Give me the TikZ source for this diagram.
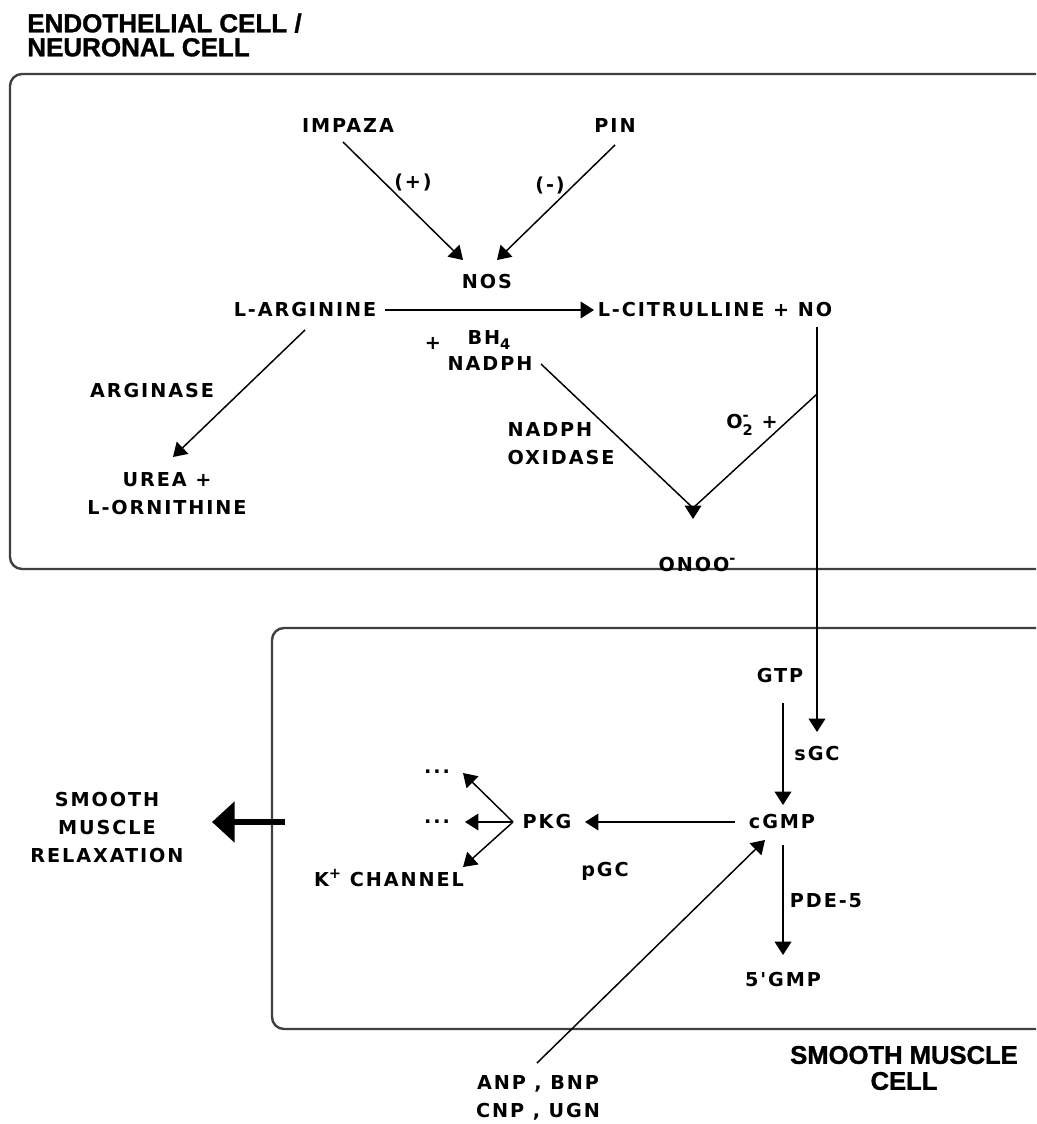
\documentclass[tikz,border=0pt]{standalone}
\usepackage{fontspec}
\usetikzlibrary{arrows.meta}
\newfontfamily\lblfam{DejaVu Sans}[LetterSpace=10]
\newfontfamily\hdrfam{Liberation Sans}[FakeBold=1.2]
\newcommand\lblfont{\lblfam\bfseries\fontsize{14.4}{21}\selectfont}
\newcommand\hdrfont{\hdrfam\bfseries\fontsize{19.5}{18}\selectfont}
\newcommand\hdrfontb{\hdrfam\bfseries\fontsize{19.2}{19.5}\selectfont}
\newcommand\smallsc[1]{{\fontsize{11}{11}\selectfont #1}}
\tikzset{
  lbl/.style={font=\lblfont, inner sep=1pt},
  hdr/.style={font=\hdrfont, inner sep=0pt},
  conn/.style={line width=1.1pt, -{Triangle[length=10pt,width=12.5pt]}},
  plainline/.style={line width=1.1pt},
  cell/.style={line width=1.8pt, draw=black!75, rounded corners=9pt},
  bigarrow/.style={line width=4.5pt, -{Triangle[length=17pt,width=30pt]}},
}
\begin{document}
\begin{tikzpicture}[x=0.75pt,y=-0.75pt]
\useasboundingbox (0,0) rectangle (1036,1124);
% cells
\draw[cell] (1036,74) -- (10,74) -- (10,569) -- (1036,569);
\draw[cell] (1036,628) -- (272,628) -- (272,1029) -- (1036,1029);
% headers
\node[hdr, anchor=west, align=left] (hEndo) at (27,35) {ENDOTHELIAL CELL /\\NEURONAL CELL};
\node[hdr, font=\hdrfontb, align=center] (hSmc) at (904,1068) {SMOOTH MUSCLE\\CELL};
% labels top cell
\node[lbl] (impaza) at (348,126) {IMPAZA};
\node[lbl] (pin) at (615,126) {PIN};
\node[lbl] (pos) at (413,182) {(+)};
\node[lbl] (neg) at (550,185) {(-)};
\node[lbl] (nos) at (487,282) {NOS};
\node[lbl] (larg) at (305,310) {L-ARGININE};
\node[lbl] (lcit) at (715,310) {L-CITRULLINE + NO};
\node[lbl] (bhplus) at (433,343) {+};
\node[lbl, anchor=west] (bh4) at (466,340) {BH\raisebox{-0.3em}{\smallsc{4}}};
\node[lbl] (nadph) at (490,363) {NADPH};
\node[lbl] (arginase) at (152,391) {ARGINASE};
\node[lbl, align=center] (urea) at (167,494) {UREA +\\L-ORNITHINE};
\node[lbl, anchor=west, align=left] (nox) at (506,444) {NADPH\\OXIDASE};
\node[lbl] (o2) at (752,425) {O\rlap{\raisebox{0.45em}{\smallsc{-}}}\raisebox{-0.35em}{\smallsc{2}} +};
\node[lbl] (onoo) at (697,565) {ONOO\raisebox{0.45em}{\smallsc{-}}};
% labels bottom cell
\node[lbl] (gtp) at (780,676) {GTP};
\node[lbl] (sgc) at (817,754) {sGC};
\node[lbl] (cgmp) at (782,822) {cGMP};
\node[lbl] (pkg) at (547,822) {PKG};
\node[lbl] (pde) at (826,901) {PDE-5};
\node[lbl] (gmp) at (783,979) {5'GMP};
\node[lbl] (pgc) at (605,871) {pGC};
\node[lbl] (dotsA) at (437,772) {...};
\node[lbl] (dotsB) at (437,822) {...};
\node[lbl] (kch) at (389,878) {K\raisebox{0.45em}{\smallsc{+}} CHANNEL};
\node[lbl, align=center] (natr) at (538,1098) {ANP , BNP\\CNP , UGN};
\node[lbl, align=center] (relax) at (107,828) {SMOOTH\\MUSCLE\\RELAXATION};
% connector end points
\coordinate (impS) at (343,142);
\coordinate (impT) at (463,260);
\coordinate (pinS) at (615,145);
\coordinate (pinT) at (497,260);
\coordinate (argS) at (385,310);
\coordinate (citT) at (594,310);
\coordinate (argD) at (305,330);
\coordinate (ureaT) at (173,457);
\coordinate (nadS) at (541,364);
\coordinate (vtx) at (693,508);
\coordinate (vtxT) at (693,519);
\coordinate (noS) at (817,327);
\coordinate (noJ) at (817,394);
\coordinate (sgcT) at (817,732);
\coordinate (gtpS) at (783,703);
\coordinate (cgmpT) at (783,805);
\coordinate (cgmpL) at (735,822);
\coordinate (pkgT) at (585,822);
\coordinate (cgmpB) at (783,845);
\coordinate (gmpT) at (783,955);
\coordinate (natrS) at (537,1063);
\coordinate (pgcT) at (765,840);
\coordinate (split) at (513,822);
\coordinate (tA) at (463,773);
\coordinate (tB) at (465,822);
\coordinate (tC) at (463,867);
\coordinate (bigS) at (285,822);
\coordinate (bigT) at (212,822);
% connectors
\draw[conn] (impS) -- (impT);
\draw[conn] (pinS) -- (pinT);
\draw[conn] (argS) -- (citT);
\draw[conn] (argD) -- (ureaT);
\draw[plainline] (nadS) -- (vtx) -- (noJ);
\draw[conn] (vtx) -- (vtxT);
\draw[conn] (noS) -- (sgcT);
\draw[conn] (gtpS) -- (cgmpT);
\draw[conn] (cgmpL) -- (pkgT);
\draw[conn] (cgmpB) -- (gmpT);
\draw[conn] (natrS) -- (pgcT);
\draw[conn] (split) -- (tA);
\draw[conn] (split) -- (tB);
\draw[conn] (split) -- (tC);
\draw[bigarrow] (bigS) -- (bigT);
\end{tikzpicture}
\end{document}
